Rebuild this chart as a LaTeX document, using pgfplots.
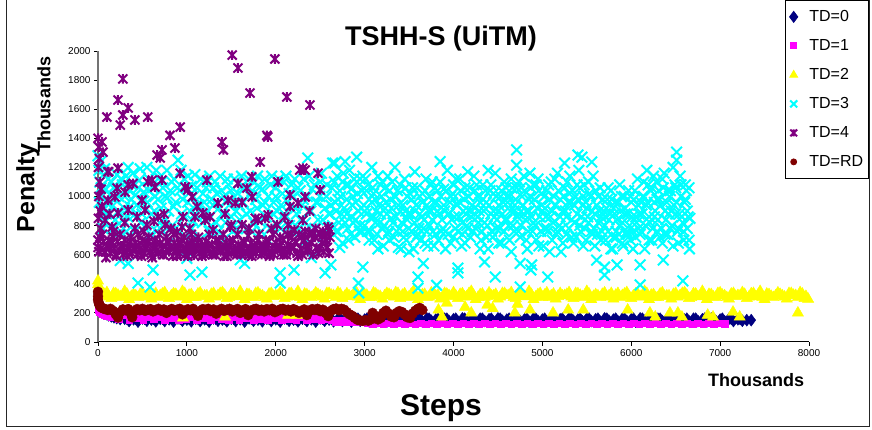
\documentclass[border=0pt]{standalone}
\usepackage{fontspec}
\setmainfont{Liberation Sans}
\usepackage{pgfplots}
\pgfplotsset{compat=1.18}
\definecolor{cNavy}{HTML}{000080}
\definecolor{cMag}{HTML}{FF00FF}
\definecolor{cYel}{HTML}{FFFF00}
\definecolor{cCyan}{HTML}{00FFFF}
\definecolor{cPur}{HTML}{800080}
\definecolor{cRed}{HTML}{800000}
\pgfdeclareplotmark{xstar}{%
\pgfpathmoveto{\pgfqpoint{-.75\pgfplotmarksize}{-.75\pgfplotmarksize}}%
\pgfpathlineto{\pgfqpoint{.75\pgfplotmarksize}{.75\pgfplotmarksize}}%
\pgfpathmoveto{\pgfqpoint{-.75\pgfplotmarksize}{.75\pgfplotmarksize}}%
\pgfpathlineto{\pgfqpoint{.75\pgfplotmarksize}{-.75\pgfplotmarksize}}%
\pgfpathmoveto{\pgfqpoint{0pt}{-.8\pgfplotmarksize}}%
\pgfpathlineto{\pgfqpoint{0pt}{.8\pgfplotmarksize}}%
\pgfusepathqstroke}
\begin{document}
\begin{tikzpicture}
\begin{axis}[
 at={(98pt,88pt)}, anchor=south west, scale only axis,
 width=711pt, height=291pt,
 xmin=0, xmax=8000, ymin=0, ymax=2000,
 axis lines*=left,
 x axis line style={black, line width=1pt},
 y axis line style={black!55, line width=1.4pt},
 xtick distance=1000, ytick distance=200,
 tick align=outside, major tick length=4pt,
 tick style={black, line width=0.8pt},
 /pgf/number format/assume math mode=true,
 /pgf/number format/1000 sep={},
 tick label style={font=\fontsize{10}{12}\selectfont},
 clip=false,
 legend cell align=left,
 legend style={at={(1.0844,1.1753)}, anchor=north east, draw=black, line width=0.8pt,
   font=\fontsize{16}{19}\selectfont, row sep=12pt, column sep=10pt, inner xsep=4pt, inner ysep=8pt,
   nodes={inner sep=1.5pt, text height=12pt, text depth=2pt}},
]
% TD=0
\addplot[only marks, mark=diamond*, mark size=6pt, color=cNavy, legend image post style={mark size=5.5pt}] coordinates {
(0,330)(0,300)(5,280)(10,262)(20,246)(30,233)(45,220)(60,208)(80,198)(100,190)(120,183)(150,176)(180,170)(210,164)(250,158)
(300,160)(350,144)(400,156)(450,140)(500,162)(550,146)(600,154)(650,142)
(700,160)(750,144)(800,156)(850,140)(900,162)(950,146)(1000,154)(1050,142)
(1100,160)(1150,144)(1200,156)(1250,140)(1300,162)(1350,146)(1400,154)(1450,142)
(1500,160)(1550,144)(1600,156)(1650,140)(1700,162)(1750,146)(1800,154)(1850,142)
(1900,160)(1950,144)(2000,156)(2050,140)(2100,162)(2150,146)(2200,154)(2250,142)
(2300,160)(2350,144)(2400,156)(2450,140)(2500,162)(2550,146)(2600,154)(2650,142)
(2700,160)(2750,144)(2800,156)(2850,140)(2900,162)(2950,146)(3000,154)(3050,142)
(3100,160)(3150,144)(3200,156)(3250,140)(3300,162)(3350,146)(3400,154)(3450,142)
(3500,160)(3550,144)(3600,156)(3650,140)(3700,162)(3750,146)(3800,154)(3850,142)
(3900,160)(3950,144)(4000,156)(4050,140)(4100,162)(4150,146)(4200,154)(4250,142)
(4300,160)(4350,144)(4400,156)(4450,140)(4500,162)(4550,146)(4600,154)(4650,142)
(4700,160)(4750,144)(4800,156)(4850,140)(4900,162)(4950,146)(5000,154)(5050,142)
(5100,160)(5150,144)(5200,156)(5250,140)(5300,162)(5350,146)(5400,154)(5450,142)
(5500,160)(5550,144)(5600,156)(5650,140)(5700,162)(5750,146)(5800,154)(5850,142)
(5900,160)(5950,144)(6000,156)(6050,140)(6100,162)(6150,146)(6200,154)(6250,142)
(6300,160)(6350,144)(6400,156)(6450,140)(6500,162)(6550,146)(6600,154)(6650,142)
(6700,160)(6750,144)(6800,156)(6850,140)(6900,162)(6950,146)(7000,154)(7050,142)
(7100,160)(7150,144)(7200,156)(7250,146)(7300,150)(7350,150)
(325,160)(425,160)(525,160)(625,160)(725,160)(825,160)(925,160)(1025,160)(1125,160)(1225,160)
(1325,160)(1425,160)(1525,160)(1625,160)(1725,160)(1825,160)(1925,160)(2025,160)(2125,160)(2225,160)
(2325,160)(2425,160)(2525,160)(2625,160)(2725,160)(2825,160)(2925,160)(3025,160)(3125,160)(3225,160)
(3325,160)(3425,160)(3525,160)(3625,160)(3725,160)(3825,160)(3925,160)(4025,160)(4125,160)(4225,160)
(4325,160)(4425,160)(4525,160)(4625,160)(4725,160)(4825,160)(4925,160)(5025,160)(5125,160)(5225,160)
(5325,160)(5425,160)(5525,160)(5625,160)(5725,160)(5825,160)(5925,160)(6025,160)(6125,160)(6225,160)
(6325,160)(6425,160)(6525,160)(6625,160)(6725,160)(6825,160)(6925,160)(7025,160)(7125,160)(7225,158)
};
\addlegendentry{TD=0}
% TD=1
\addplot[only marks, mark=square*, mark size=3.3pt, color=cMag, legend image post style={mark size=3pt}] coordinates {
(0,262)(0,240)(5,228)(10,218)(20,208)(35,198)(50,190)(70,184)(90,180)(120,176)
(150,170)(190,195)(230,160)(270,185)(310,200)(350,155)(390,180)(430,165)(470,195)(510,150)
(550,175)(590,190)(630,160)(670,200)(710,170)(750,155)(790,185)(830,165)(870,195)(910,150)
(950,180)(990,160)(1030,190)(1070,170)(1110,155)(1150,200)(1190,165)(1230,185)(1270,150)(1310,175)
(1350,195)(1390,160)(1430,180)(1470,155)(1510,190)(1550,170)(1590,150)(1630,185)(1670,165)(1710,195)
(1750,155)(1790,175)(1830,160)(1870,190)(1910,150)(1950,180)(1990,165)(2030,195)(2070,155)(2110,175)
(2150,160)(2190,185)(2230,150)(2270,170)(2310,190)(2350,155)(2390,175)(2430,160)(2470,185)(2510,150)
(2550,170)(2590,160)
(2630,150)(2670,140)(2710,148)(2750,136)(2790,150)(2830,140)(2870,146)(2910,135)(2950,148)(2990,138)
(3030,128)(3090,122)(3150,128)(3210,122)(3270,128)(3330,122)(3390,128)(3450,122)(3510,128)(3570,122)
(3630,128)(3690,122)(3750,128)(3810,122)(3870,128)(3930,122)(3990,128)(4050,122)(4110,128)(4170,122)
(4230,128)(4290,122)(4350,128)(4410,122)(4470,128)(4530,122)(4590,128)(4650,122)(4710,128)(4770,122)
(4830,128)(4890,122)(4950,128)(5010,122)(5070,128)(5130,122)(5190,128)(5250,122)(5310,128)(5370,122)
(5430,128)(5490,122)(5550,128)(5610,122)(5670,128)(5730,122)(5790,128)(5850,122)(5910,128)(5970,122)
(6030,128)(6090,122)(6150,128)(6210,122)(6270,128)(6330,122)(6390,128)(6450,122)(6510,128)(6570,122)
(6630,128)(6690,122)(6750,128)(6810,122)(6870,128)(6930,122)(6990,128)(7050,124)
};
\addlegendentry{TD=1}
% TD=2
\addplot[only marks, mark=triangle*, mark size=6.5pt, color=cYel, legend image post style={mark size=4.5pt}] coordinates {
(0,420)(0,395)(10,380)(25,360)
(50,320)(100,340)(150,300)(200,332)(250,312)(300,348)(350,292)(400,326)(450,306)(500,338)(550,318)(600,296)(650,334)
(700,320)(750,340)(800,300)(850,332)(900,312)(950,348)(1000,292)(1050,326)(1100,306)(1150,338)(1200,318)(1250,296)(1300,334)
(1350,320)(1400,340)(1450,300)(1500,332)(1550,312)(1600,348)(1650,292)(1700,326)(1750,306)(1800,338)(1850,318)(1900,296)(1950,334)
(2000,320)(2050,340)(2100,300)(2150,332)(2200,312)(2250,348)(2300,292)(2350,326)(2400,306)(2450,338)(2500,318)(2550,296)(2600,334)
(2650,320)(2700,340)(2750,300)(2800,332)(2850,312)(2900,348)(2950,292)(3000,326)(3050,306)(3100,338)(3150,318)(3200,296)(3250,334)
(3300,320)(3350,340)(3400,300)(3450,332)(3500,312)(3550,348)(3600,292)(3650,326)(3700,306)(3750,338)(3800,318)(3850,296)(3900,334)
(3950,320)(4000,340)(4050,300)(4100,332)(4150,312)(4200,348)(4250,292)(4300,326)(4350,306)(4400,338)(4450,318)(4500,296)(4550,334)
(4600,320)(4650,340)(4700,300)(4750,332)(4800,312)(4850,348)(4900,292)(4950,326)(5000,306)(5050,338)(5100,318)(5150,296)(5200,334)
(5250,320)(5300,340)(5350,300)(5400,332)(5450,312)(5500,348)(5550,292)(5600,326)(5650,306)(5700,338)(5750,318)(5800,296)(5850,334)
(5900,320)(5950,340)(6000,300)(6050,332)(6100,312)(6150,348)(6200,292)(6250,326)(6300,306)(6350,338)(6400,318)(6450,296)(6500,334)
(6550,320)(6600,340)(6650,300)(6700,332)(6750,312)(6800,348)(6850,292)(6900,326)(6950,306)(7000,338)(7050,318)(7100,296)(7150,334)
(7200,320)(7250,340)(7300,300)(7350,332)(7400,312)(7450,348)(7500,292)(7550,326)(7600,306)(7650,338)(7700,318)(7750,296)(7800,334)
(7850,320)(7900,340)(7950,300)(7990,295)
(25,318)(75,328)(125,310)(175,334)(225,322)(275,306)(325,330)(375,314)
(425,318)(475,328)(525,310)(575,334)(625,322)(675,306)(725,330)(775,314)
(825,318)(875,328)(925,310)(975,334)(1025,322)(1075,306)(1125,330)(1175,314)
(1225,318)(1275,328)(1325,310)(1375,334)(1425,322)(1475,306)(1525,330)(1575,314)
(1625,318)(1675,328)(1725,310)(1775,334)(1825,322)(1875,306)(1925,330)(1975,314)
(2025,318)(2075,328)(2125,310)(2175,334)(2225,322)(2275,306)(2325,330)(2375,314)
(2425,318)(2475,328)(2525,310)(2575,334)(2625,322)(2675,306)(2725,330)(2775,314)
(2825,318)(2875,328)(2925,310)(2975,334)(3025,322)(3075,306)(3125,330)(3175,314)
(3225,318)(3275,328)(3325,310)(3375,334)(3425,322)(3475,306)(3525,330)(3575,314)
(3625,318)(3675,328)(3725,310)(3775,334)(3825,322)(3875,306)(3925,330)(3975,314)
(4025,318)(4075,328)(4125,310)(4175,334)(4225,322)(4275,306)(4325,330)(4375,314)
(4425,318)(4475,328)(4525,310)(4575,334)(4625,322)(4675,306)(4725,330)(4775,314)
(4825,318)(4875,328)(4925,310)(4975,334)(5025,322)(5075,306)(5125,330)(5175,314)
(5225,318)(5275,328)(5325,310)(5375,334)(5425,322)(5475,306)(5525,330)(5575,314)
(5625,318)(5675,328)(5725,310)(5775,334)(5825,322)(5875,306)(5925,330)(5975,314)
(6025,318)(6075,328)(6125,310)(6175,334)(6225,322)(6275,306)(6325,330)(6375,314)
(6425,318)(6475,328)(6525,310)(6575,334)(6625,322)(6675,306)(6725,330)(6775,314)
(6825,318)(6875,328)(6925,310)(6975,334)(7025,322)(7075,306)(7125,330)(7175,314)
(7225,318)(7275,328)(7325,310)(7375,334)(7425,322)(7475,306)(7525,330)(7575,314)
(7625,318)(7675,328)(7725,310)(7775,334)(7825,322)(7875,306)(7925,330)(7965,314)
(956,165)(1430,172)(2140,185)(2240,185)(3830,220)(3870,172)(3925,268)(4130,240)(4200,200)(4380,254)(4440,230)
(4690,200)(4720,260)(4860,220)(5120,200)(5290,220)(5460,220)(5960,220)(6210,200)(6270,172)(6435,200)(6525,200)
(6570,172)(6860,185)(6920,172)(7145,206)(7220,172)(7875,200)
};
\addlegendentry{TD=2}
% TD=3
\addplot[only marks, mark=x, mark size=7.5pt, color=cCyan, line width=2pt, legend image post style={mark size=5pt}] coordinates {
(0,1280)(10,1180)(20,1100)(30,1240)(40,1000)(50,900)(60,1150)(70,820)(90,1050)(110,950)
(130,880)(150,1100)(170,780)(190,980)(210,1060)(230,900)(260,1120)(280,840)(300,1000)(320,760)
(340,1200)(360,930)(380,1080)(400,870)(420,1010)(450,405)(460,1110)(480,820)(500,960)(520,700)
(550,1200)(570,1040)(585,378)(600,880)(620,495)(640,1000)(660,760)(690,1130)(710,920)(730,1060)
(760,840)(780,990)(800,680)(830,1100)(850,930)(870,780)(900,1250)(920,1040)(940,880)(970,1120)
(990,720)(1010,960)(1035,460)(1050,1070)(1070,830)(1090,1150)(1110,940)(1140,700)(1170,480)(1180,1020)
(1200,870)(1230,1100)(1250,760)(1280,980)(1300,1060)(1330,820)(1360,920)(1390,1040)(1410,700)(1440,960)
(1470,1080)(1500,860)(1530,1000)(1560,780)(1590,940)(1620,1070)(1650,540)(1670,880)(1700,1010)(1730,760)
(1760,1100)(1790,920)(1820,830)(1850,1050)(1880,960)(1910,700)(1940,1080)(1970,880)(2000,1000)(2030,800)
(2050,475)(2060,940)(2090,1100)(2120,860)(2150,1020)(2180,760)(2205,495)(2220,920)(2250,1060)(2280,840)
(2310,980)(2340,700)(2360,1265)(2380,900)(2410,1050)(2440,780)(2470,960)(2500,1100)(2530,840)(2555,475)
(2570,1000)(2600,880)(2620,530)(250,560)(1000,575)(1600,565)(2400,580)(340,540)(2050,405)
(15,960)(35,1060)(55,780)(75,1190)(95,880)(115,1120)(135,1010)(155,930)(175,1060)(195,840)
(215,1150)(235,1000)(255,760)(275,1080)(295,920)(315,1140)(335,860)(355,1040)(375,980)(395,1160)
(415,760)(435,940)(455,1060)(475,1190)(495,880)(515,1030)(535,800)(555,960)(575,1120)(595,740)
(615,1060)(635,900)(655,1180)(675,980)(695,820)(715,1100)(735,760)(755,1000)(775,1180)(795,900)
(815,1040)(835,800)(855,1120)(875,960)(895,1060)(915,760)(935,1180)(955,980)(975,860)(995,1060)
(1015,1140)(1035,900)(1055,780)(1075,1000)(1095,880)(1115,1060)(1135,940)(1155,1120)(1175,820)(1195,960)
(1215,1060)(1235,900)(1255,1140)(1275,800)(1295,940)(1315,1100)(1335,1020)(1355,760)(1375,1140)(1395,880)
(1415,1000)(1435,820)(1455,1120)(1475,940)(1495,1040)(1515,760)(1535,1120)(1555,900)(1575,1020)(1595,840)
(1615,1140)(1635,960)(1655,1060)(1675,780)(1695,1120)(1715,900)(1735,1040)(1755,820)(1775,980)(1795,1140)
(1815,1060)(1835,760)(1855,940)(1875,1120)(1895,860)(1915,1000)(1935,780)(1955,1140)(1975,960)(1995,1060)
(2015,900)(2035,1120)(2055,780)(2075,1020)(2095,880)(2115,1140)(2135,960)(2155,800)(2175,1080)(2195,1000)
(2215,1120)(2235,880)(2255,780)(2275,1040)(2295,940)(2315,1120)(2335,820)(2355,1000)(2375,1140)(2395,900)
(2415,760)(2435,1080)(2455,960)(2475,840)(2495,1000)(2515,1160)(2535,720)(2555,920)(2575,1080)(2595,780)
(2640,1230)(2665,1230)(2680,760)(2700,980)(2720,650)(2750,1100)(2780,1240)(2800,880)(2820,700)(2850,1050)
(2870,820)(2900,960)(2910,1270)(2930,405)(2935,337)(2950,1120)(2970,760)(2980,515)(3000,900)(3020,1040)
(3050,700)(3080,1200)(3100,860)(3120,980)(3150,640)(3180,1080)(3200,780)(3230,920)(3260,1140)(3280,700)
(3300,850)(3340,1200)(3350,1000)(3380,650)(3400,900)(3430,760)(3460,1060)(3480,840)(3500,620)(3530,980)
(3565,1170)(3580,720)(3600,447)(3600,370)(3620,880)(3650,1020)(3660,540)(3680,680)(3700,940)(3730,800)
(3760,1100)(3780,660)(3810,390)(3820,900)(3850,1240)(3860,760)(3890,1050)(3910,640)(3940,880)(3970,1000)
(4000,720)(4030,950)(4050,508)(4050,475)(4070,1120)(4100,820)(4130,680)(4160,1170)(4180,900)(4210,760)
(4240,1040)(4270,860)(4300,640)(4330,980)(4350,550)(4370,720)(4390,1180)(4420,880)(4450,1020)(4470,447)
(4480,780)(4510,940)(4540,680)(4570,1100)(4600,840)(4630,1000)(4650,620)(4680,900)(4710,1320)(4710,1215)
(4730,760)(4750,540)(4750,378)(4760,1060)(4790,880)(4820,700)(4850,980)(4860,1160)(4870,495)(4880,530)
(4900,820)(4930,1080)(4960,660)(4990,940)(5020,780)(5050,1040)(5060,447)(5080,620)(5110,900)(5140,1120)
(5170,760)(5200,980)(5230,680)(5250,1230)(5270,860)(5300,1020)(5330,720)(5360,940)(5390,1080)(5400,1285)
(5420,800)(5445,1270)(5460,660)(5490,960)(5520,1100)(5555,1237)(5560,740)(5590,880)(5610,563)(5630,1000)
(5660,700)(5700,515)(5700,460)(5710,860)(5740,1060)(5770,640)(5800,920)(5830,760)(5840,530)(5870,1080)
(5900,680)(5930,880)(5960,740)(5990,1000)(6020,640)(6050,860)(6080,780)(6100,530)(6100,392)(6110,960)
(6140,1100)(6175,1180)(6200,700)(6230,1060)(6260,860)(6290,980)(6320,720)(6350,1120)(6360,563)(6380,900)
(6410,1040)(6440,780)(6470,1200)(6500,880)(6510,1305)(6510,1250)(6530,680)(6560,1000)(6580,420)(6590,760)
(6610,1080)(6630,900)(6650,700)(6660,850)
(2610,880)(2630,1060)(2650,740)(2670,960)(2690,1140)(2710,820)(2730,1000)(2750,680)(2770,920)(2790,1080)
(2810,780)(2830,1180)(2850,860)(2870,1000)(2890,720)(2910,1100)(2930,900)(2950,800)(2970,1040)(2990,940)
(3010,1120)(3030,760)(3050,980)(3070,860)(3090,1060)(3110,700)(3130,900)(3150,1140)(3170,820)(3190,1000)
(3210,660)(3230,1060)(3250,880)(3270,760)(3290,980)(3310,1100)(3330,720)(3350,860)(3370,1040)(3390,780)
(3410,640)(3430,940)(3450,1120)(3470,700)(3490,880)(3510,1020)(3530,760)(3550,640)(3570,900)(3590,1060)
(3610,780)(3630,700)(3650,960)(3670,840)(3690,1120)(3710,660)(3730,1000)(3750,900)(3770,760)(3790,1060)
(3810,960)(3830,700)(3850,1100)(3870,840)(3890,940)(3910,760)(3930,1180)(3950,880)(3970,680)(3990,1020)
(4010,860)(4030,1120)(4050,760)(4070,960)(4090,660)(4110,900)(4130,1060)(4150,800)(4170,1000)(4190,720)
(4210,940)(4230,1140)(4250,780)(4270,1000)(4290,900)(4310,700)(4330,1080)(4350,820)(4370,960)(4390,640)
(4410,1040)(4430,760)(4450,900)(4470,1160)(4490,840)(4510,680)(4530,1000)(4550,880)(4570,760)(4590,1060)
(4610,960)(4630,700)(4650,1120)(4670,800)(4690,940)(4710,1060)(4730,880)(4750,720)(4770,1000)(4790,1140)
(4810,840)(4830,640)(4850,900)(4870,1060)(4890,760)(4910,980)(4930,700)(4950,1120)(4970,860)(4990,1020)
(5010,660)(5030,920)(5050,780)(5070,1080)(5090,860)(5110,700)(5130,1000)(5150,940)(5170,1160)(5190,800)
(5210,620)(5230,900)(5250,1060)(5270,740)(5290,960)(5310,1140)(5330,840)(5350,680)(5370,1000)(5390,880)
(5410,1180)(5430,760)(5450,940)(5470,1080)(5490,700)(5510,860)(5530,1020)(5550,760)(5570,1140)(5590,660)
(5610,940)(5630,820)(5650,1060)(5670,760)(5690,900)(5710,700)(5730,980)(5750,840)(5770,1040)(5790,640)
(5810,880)(5830,720)(5850,960)(5870,800)(5890,1000)(5910,660)(5930,920)(5950,760)(5970,1040)(5990,700)
(6010,860)(6030,980)(6050,720)(6070,1120)(6090,880)(6110,760)(6130,1000)(6150,640)(6170,940)(6190,1080)
(6210,820)(6230,700)(6250,1140)(6270,900)(6290,760)(6310,1040)(6330,940)(6350,680)(6370,1160)(6390,840)
(6410,740)(6430,1000)(6450,900)(6470,660)(6490,1080)(6510,960)(6530,780)(6550,1140)(6570,860)(6590,700)
(6610,980)(6630,780)(6650,1060)(6655,640)
(2620,940)(2640,800)(2660,1100)(2680,900)(2700,760)(2720,1040)(2740,880)(2760,1160)(2780,820)(2800,980)
(2820,1080)(2840,740)(2860,940)(2880,1120)(2900,840)(2920,1020)(2940,760)(2960,920)(2980,1140)(3000,800)
(3020,880)(3040,1080)(3060,760)(3080,960)(3100,1020)(3120,820)(3140,740)(3160,940)(3180,880)(3200,1100)
(3220,800)(3240,960)(3260,740)(3280,1040)(3300,920)(3320,820)(3340,1000)(3360,760)(3380,940)(3400,1080)
(3420,820)(3440,720)(3460,900)(3480,1000)(3500,780)(3520,880)(3540,1060)(3560,820)(3580,940)(3600,740)
(3620,1000)(3640,860)(3660,780)(3680,1040)(3700,760)(3720,900)(3740,1080)(3760,840)(3780,960)(3800,740)
(3820,1040)(3840,880)(3860,1000)(3880,780)(3900,900)(3920,1040)(3940,740)(3960,960)(3980,840)(4000,1080)
(4020,780)(4040,940)(4060,860)(4080,1040)(4100,740)(4120,980)(4140,880)(4160,780)(4180,1060)(4200,860)
(4220,760)(4240,920)(4260,1080)(4280,820)(4300,960)(4320,760)(4340,900)(4360,1040)(4380,800)(4400,940)
(4420,1080)(4440,720)(4460,860)(4480,1000)(4500,900)(4520,780)(4540,1040)(4560,960)(4580,840)(4600,1000)
(4620,800)(4640,900)(4660,1060)(4680,760)(4700,980)(4720,860)(4740,1100)(4760,800)(4780,940)(4800,1040)
(4820,900)(4840,760)(4860,1000)(4880,860)(4900,1080)(4920,800)(4940,920)(4960,1040)(4980,760)(5000,900)
(5020,1000)(5040,860)(5060,760)(5080,980)(5100,1100)(5120,820)(5140,940)(5160,740)(5180,1040)(5200,860)
(5220,780)(5240,1000)(5260,900)(5280,1100)(5300,780)(5320,960)(5340,1040)(5360,820)(5380,720)(5400,980)
(5420,1060)(5440,860)(5460,1000)(5480,780)(5500,920)(5520,820)(5540,1000)(5560,900)(5580,780)(5600,1040)
(5620,740)(5640,900)(5660,860)(5680,980)(5700,800)(5720,920)(5740,760)(5760,880)(5780,980)(5800,720)
(5820,960)(5840,840)(5860,740)(5880,900)(5900,820)(5920,1000)(5940,740)(5960,880)(5980,800)(6000,960)
(6020,760)(6040,1040)(6060,820)(6080,940)(6100,740)(6120,880)(6140,1000)(6160,800)(6180,960)(6200,860)
(6220,1040)(6240,780)(6260,960)(6280,1100)(6300,840)(6320,980)(6340,780)(6360,1060)(6380,740)(6400,960)
(6420,880)(6440,1040)(6460,800)(6480,940)(6500,1060)(6520,760)(6540,880)(6560,1080)(6580,820)(6600,960)
(6620,1040)(6640,860)
};
\addlegendentry{TD=3}
% TD=4
\addplot[only marks, mark=xstar, mark size=6pt, color=cPur, line width=2pt, legend image post style={mark size=4.5pt}] coordinates {
(0,1400)(10,1340)(15,1260)(5,1200)(20,1100)(10,1000)(25,900)(5,850)(30,780)
(45,1375)(56,1305)(110,1170)(225,1195)(215,1058)(340,1080)(395,1090)(560,1100)(610,1113)(665,1285)
(700,1265)(720,1320)(810,1420)(925,1477)(865,1333)(925,1160)(980,1065)(1225,1113)(1395,1375)(1410,1320)
(1575,1090)(1675,1058)(1730,1135)(1825,1237)(1900,1420)(2025,1100)(2160,1010)(2305,1195)(2330,997)(2475,1160)
(2500,1045)(2160,930)(2250,955)(2140,805)(1770,850)(1880,850)(1735,997)(1620,960)(1465,975)(1545,955)
(1500,805)(1620,805)(1350,955)(1180,887)(1090,860)(1060,997)(1010,1045)(720,1113)(640,1065)(495,975)
(305,1030)(190,997)(110,975)(45,930)(80,838)(225,887)(340,907)(530,907)(675,860)(755,805)
(890,757)(945,790)(1115,930)(1205,838)(1295,770)(1485,790)(1800,838)(1915,873)(2015,805)(2140,735)
(2305,838)(2555,735)(550,805)(415,783)(160,790)
(1510,1972)(1575,1883)(1990,1945)(1710,1711)(2125,1684)(2385,1629)(280,1808)(225,1663)(340,1608)(280,1560)
(250,1491)(100,1546)(415,1526)(560,1546)(1910,1409)(2270,1182)(2330,1182)(120,1170)
(35,1050)(130,880)(175,760)(300,820)(440,860)(515,760)(630,830)(745,880)(820,780)(955,860)
(1030,780)(1260,860)(1430,880)(1700,780)(1950,780)(2100,860)(2380,900)(2590,790)
(0,700)(0,650)(20,720)(30,640)(60,690)(80,620)(100,660)(120,700)(140,610)(160,680)
(180,640)(200,600)(220,690)(240,630)(260,660)(280,600)(300,700)(320,620)(340,650)(360,690)
(380,610)(400,640)(420,680)(440,600)(460,660)(480,630)(500,700)(520,610)(540,650)(560,680)
(580,620)(600,600)(620,660)(640,700)(660,630)(680,610)(700,680)(720,640)(740,600)(760,660)
(780,690)(800,620)(820,650)(840,590)(860,680)(880,630)(900,660)(920,610)(940,700)(960,640)
(980,600)(1000,670)(1020,620)(1040,650)(1060,690)(1080,595)(1100,640)(1120,680)(1140,610)(1160,660)
(1180,630)(1200,600)(1220,690)(1240,640)(1260,610)(1280,670)(1300,630)(1320,600)(1340,660)(1360,700)
(1380,620)(1400,650)(1420,590)(1440,680)(1460,630)(1480,660)(1500,610)(1520,700)(1540,640)(1560,600)
(1580,670)(1600,620)(1620,650)(1640,690)(1660,610)(1680,640)(1700,595)(1720,680)(1740,630)(1760,660)
(1780,610)(1800,700)(1820,640)(1840,600)(1860,670)(1880,620)(1900,650)(1920,690)(1940,610)(1960,640)
(1980,600)(2000,680)(2020,630)(2040,660)(2060,610)(2080,700)(2100,640)(2120,600)(2140,670)(2160,620)
(2180,720)(2200,650)(2220,690)(2240,610)(2260,740)(2280,640)(2300,600)(2320,700)(2340,660)(2360,620)
(2380,750)(2400,680)(2420,600)(2440,720)(2460,650)(2480,610)(2500,740)(2520,680)(2540,620)(2560,700)
(2580,650)(2600,610)(2610,720)
(10,620)(50,740)(90,580)(130,650)(170,720)(210,590)(250,740)(290,650)(330,590)(370,720)
(410,650)(450,740)(490,590)(530,680)(570,720)(610,580)(650,650)(690,740)(730,600)(770,720)
(810,650)(850,740)(890,590)(930,680)(970,720)(1010,590)(1050,740)(1090,650)(1130,720)(1170,590)
(1210,660)(1250,740)(1290,600)(1330,700)(1370,650)(1410,740)(1450,590)(1490,690)(1530,620)(1570,740)
(1610,600)(1650,680)(1690,730)(1730,590)(1770,650)(1810,740)(1850,620)(1890,700)(1930,590)(1970,740)
(2010,650)(2050,720)(2090,600)(2130,740)(2170,650)(2210,770)(2250,590)(2290,720)(2330,760)(2370,650)
(2410,740)(2450,780)(2490,640)(2530,760)(2570,700)(2600,770)
};
\addlegendentry{TD=4}
% TD=RD
\addplot[only marks, mark=*, mark size=5pt, color=cRed, legend image post style={mark size=3pt}] coordinates {
(0,345)(0,315)(0,290)(8,270)(15,255)(25,245)(40,236)(60,230)(80,226)
(110,220)(140,228)(170,214)(200,190)(225,168)(250,205)(280,224)(310,218)(340,226)(370,195)
(385,170)(410,212)(440,226)(470,218)(500,228)(530,214)(560,222)(590,226)(620,210)(650,220)
(680,228)(710,215)(740,224)(770,200)(800,218)(830,227)(860,214)(890,222)(920,228)(950,190)
(980,212)(1010,225)(1040,218)(1070,228)(1100,205)(1125,180)(1150,214)(1180,226)(1210,220)(1240,228)
(1270,212)(1300,224)(1330,195)(1360,218)(1390,228)(1420,214)(1450,222)(1480,228)(1510,210)(1540,220)
(1570,227)(1600,200)(1630,216)(1660,226)(1690,185)(1720,212)(1750,224)(1780,228)(1810,214)(1840,222)
(1870,210)(1900,226)(1930,218)(1960,228)(1990,205)(2020,214)(2050,224)(2080,228)(2110,216)(2140,222)
(2170,210)(2200,226)(2230,218)(2260,200)(2290,212)(2320,224)(2350,185)(2380,214)(2410,226)(2440,220)
(2470,228)(2500,212)(2530,222)(2560,200)(2590,178)(2620,214)(2650,226)(2680,230)(2710,218)(2740,228)
(2770,222)(2800,205)(2830,190)(2860,180)(2890,165)
(2920,152)(2950,148)(2980,145)(3010,150)(3040,146)(3070,155)(3090,200)(3120,180)(3150,155)(3180,165)
(3210,200)(3240,215)(3270,195)(3300,175)(3330,170)(3360,200)(3390,212)(3420,206)(3450,190)(3480,170)
(3510,165)(3540,195)(3570,215)(3600,228)(3620,234)(3650,220)
};
\addlegendentry{TD=RD}
\end{axis}
\draw[line width=0.9pt, black!85] (6pt,430pt) -- (6pt,4pt) -- (869pt,4pt) -- (869pt,430pt);
\node[font=\fontsize{27}{32}\selectfont\bfseries] at (441pt,391pt) {TSHH-S (UiTM)};
\node[rotate=90, font=\fontsize{25}{30}\selectfont\bfseries] at (28pt,242pt) {Penalty};
\node[rotate=90, font=\fontsize{18}{22}\selectfont\bfseries] at (44pt,325pt) {Thousands};
\node[font=\fontsize{18}{22}\selectfont\bfseries] at (756pt,50pt) {Thousands};
\node[font=\fontsize{30}{36}\selectfont\bfseries] at (441pt,22pt) {Steps};
\pgfresetboundingbox
\path[use as bounding box] (0,0) rectangle (872pt,430pt);
\end{tikzpicture}
\end{document}
